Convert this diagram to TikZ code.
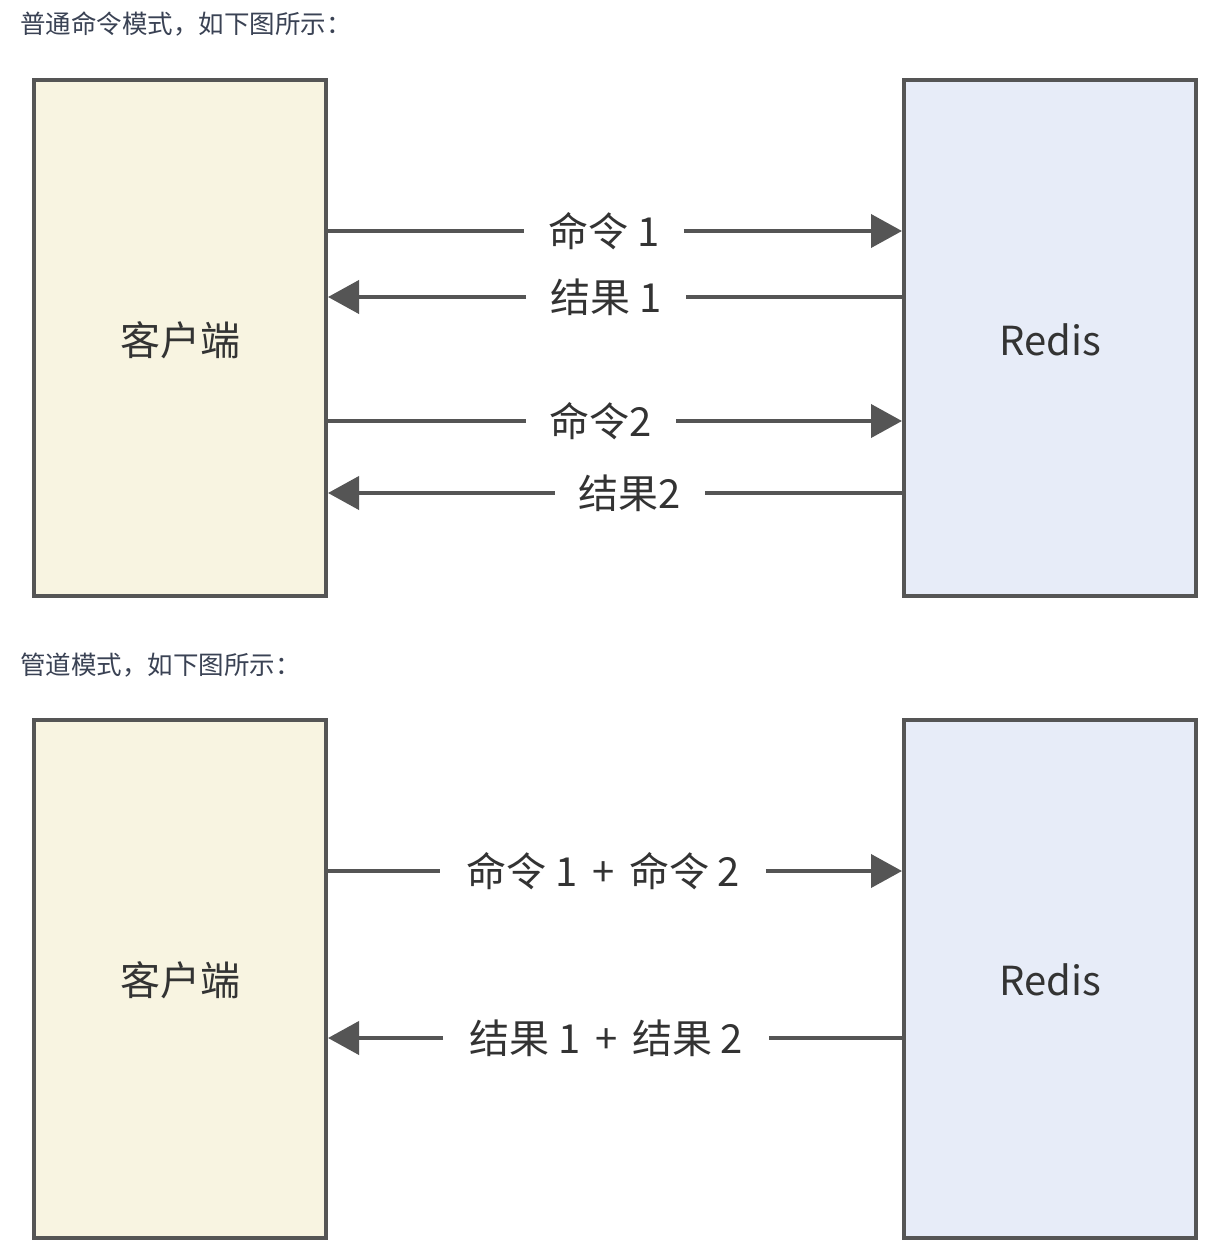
\documentclass[tikz,border=0pt]{standalone}
\usepackage{fontspec}
\setmainfont{Noto Sans CJK SC}
\usetikzlibrary{arrows.meta}
\definecolor{edge}{HTML}{555555}
\definecolor{clientfill}{HTML}{F8F4E1}
\definecolor{redisfill}{HTML}{E7ECF8}
\definecolor{titlecol}{HTML}{3A4254}
\definecolor{txt}{HTML}{333333}
\tikzset{
  box/.style={draw=edge, line width=4pt, minimum width=292pt, inner sep=0pt},
  clientbox/.style={box, fill=clientfill},
  redisbox/.style={box, fill=redisfill},
  boxtext/.style={text=txt, font=\fontsize{40}{44}\selectfont},
  lbl/.style={text=txt, font=\fontsize{40}{44}\selectfont, inner xsep=24pt, inner ysep=0pt},
  conn/.style={draw=edge, line width=4pt},
  arr/.style={conn, -{Triangle[length=31pt,width=33pt]}},
  title/.style={text=titlecol, font=\fontsize{25.5}{30}\selectfont, anchor=west, inner sep=0pt}
}
\newcommand{\plusgap}{\hspace{15pt}+\hspace{15pt}}
\newcommand{\twogap}{\hspace{8pt}}
\begin{document}
\begin{tikzpicture}[x=1pt,y=-1pt]
\useasboundingbox[fill=white] (0,0) rectangle (1208,1260);
% titles
\node[title] (t1) at (20,24) {普通命令模式，如下图所示：};
\node[title] (t2) at (20,665) {管道模式，如下图所示：};
% top boxes
\node[clientbox, minimum height=516pt] (c1) at (180,338) {};
\node[redisbox, minimum height=516pt] (r1) at (1050,338) {};
\node[boxtext] at (180,340) {客户端};
\node[boxtext] at (1050,340) {Redis};
% bottom boxes
\node[clientbox, minimum height=518pt] (c2) at (180,979) {};
\node[redisbox, minimum height=518pt] (r2) at (1050,979) {};
\node[boxtext] at (180,980) {客户端};
\node[boxtext] at (1050,980) {Redis};
% labels top
\node[lbl] (l1) at (604,231) {命令 1};
\node[lbl] (l2) at (606,297) {结果 1};
\node[lbl] (l3) at (601,421) {命令2};
\node[lbl] (l4) at (630,493) {结果2};
% labels bottom
\node[lbl, inner xsep=26pt] (l5) at (603,871) {命令 1\plusgap 命令\twogap 2};
\node[lbl, inner xsep=26pt] (l6) at (606,1038) {结果 1\plusgap 结果\twogap 2};
% connectors top
\draw[conn] (c1.east |- l1) -- (l1.west);
\draw[arr] (l1.east) -- (r1.west |- l1);
\draw[arr] (l2.west) -- (c1.east |- l2);
\draw[conn] (r1.west |- l2) -- (l2.east);
\draw[conn] (c1.east |- l3) -- (l3.west);
\draw[arr] (l3.east) -- (r1.west |- l3);
\draw[arr] (l4.west) -- (c1.east |- l4);
\draw[conn] (r1.west |- l4) -- (l4.east);
% connectors bottom
\draw[conn] (c2.east |- l5) -- (l5.west);
\draw[arr] (l5.east) -- (r2.west |- l5);
\draw[arr] (l6.west) -- (c2.east |- l6);
\draw[conn] (r2.west |- l6) -- (l6.east);
\end{tikzpicture}
\end{document}
